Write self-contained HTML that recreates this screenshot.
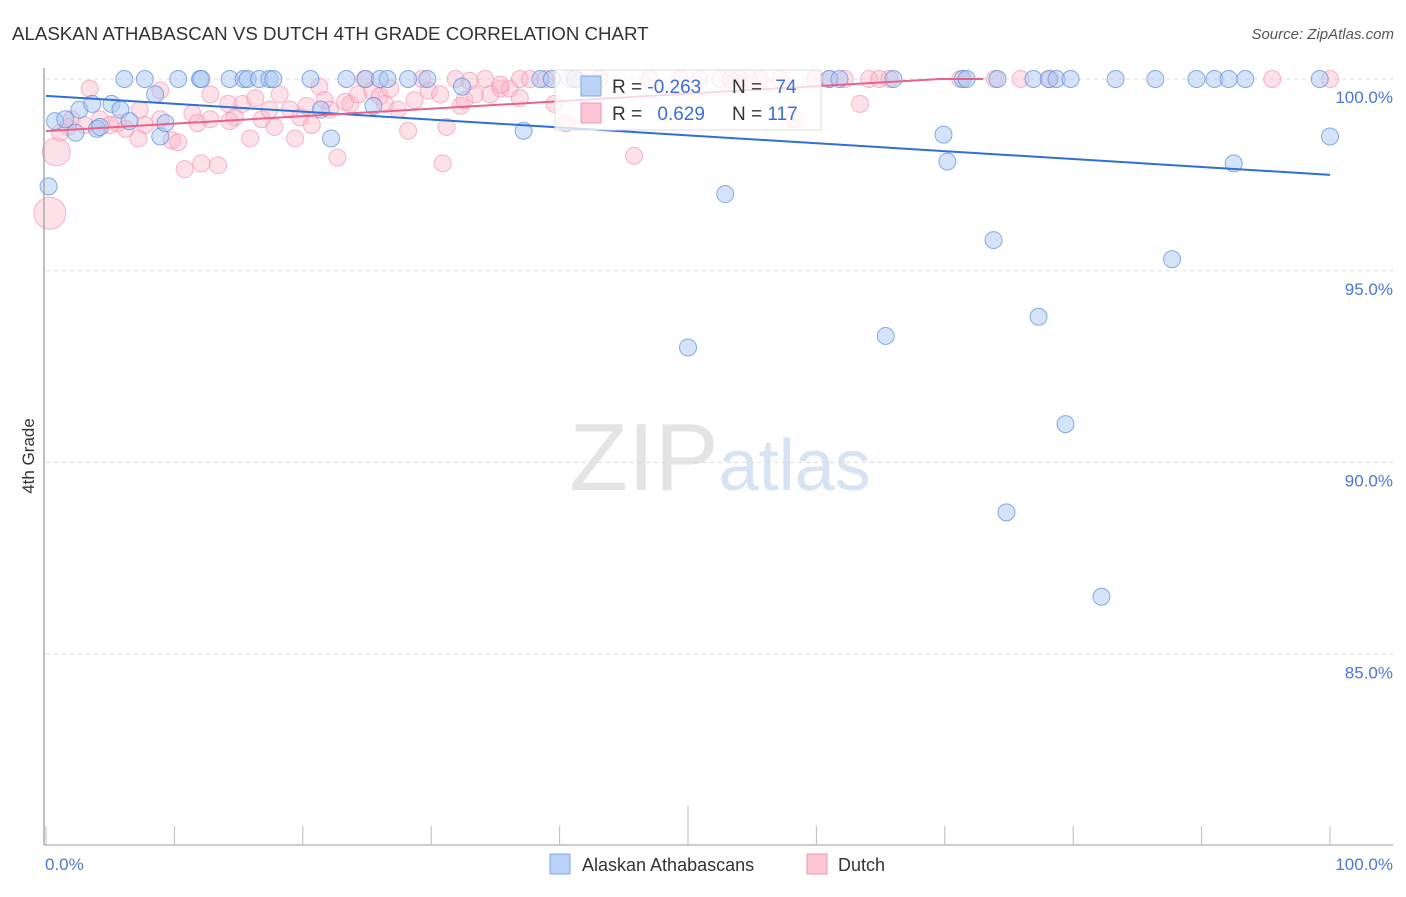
<!DOCTYPE html>
<html><head><meta charset="utf-8"><style>
body{margin:0;background:#fff;font-family:"Liberation Sans",sans-serif;}
svg text{font-family:"Liberation Sans",sans-serif;}
</style></head><body>
<svg id="chart" width="1406" height="892" xmlns="http://www.w3.org/2000/svg">
<text x="12" y="40" font-size="18.7" fill="#333">ALASKAN ATHABASCAN VS DUTCH 4TH GRADE CORRELATION CHART</text>
<text x="1394" y="39" font-size="15" fill="#555" text-anchor="end" font-style="italic">Source: ZipAtlas.com</text>
<text x="720" y="490" font-size="96" text-anchor="middle" fill="#e4e4e4" font-family="Liberation Serif">ZIP<tspan fill="#d6e3f3" font-family="Liberation Sans" font-size="72">atlas</tspan></text>
<text transform="translate(34,456) rotate(-90)" font-size="17" fill="#333" text-anchor="middle">4th Grade</text>
<g id="grid"></g><g id="pts"></g><g id="lines"></g>
<line x1="44" y1="68" x2="44" y2="845" stroke="#aaa" stroke-width="1.5"/>
<line x1="44" y1="845" x2="1393" y2="845" stroke="#bbb" stroke-width="1.5"/>
<text x="45" y="870" font-size="17" fill="#4a78d4">0.0%</text>
<text x="1393" y="870" font-size="17" fill="#4a78d4" text-anchor="end">100.0%</text>
<g>
<rect x="550" y="854" width="20" height="20" fill="#b8d3f5" stroke="#7fa6e0"/>
<text x="582" y="871" font-size="18" fill="#333">Alaskan Athabascans</text>
<rect x="807" y="854" width="20" height="20" fill="#fcc6d4" stroke="#eb9bb1"/>
<text x="838" y="871" font-size="18" fill="#333">Dutch</text>
</g>
<g>
<rect x="555" y="70" width="266" height="60" fill="#fff" fill-opacity="0.75" stroke="#ddd"/>
<rect x="581" y="76" width="20" height="20" fill="#b8d3f5" stroke="#7fa6e0"/>
<rect x="581" y="103" width="20" height="20" fill="#fcc6d4" stroke="#eb9bb1"/>
<text x="612" y="93" font-size="19" fill="#333">R = <tspan fill="#3b6fd4">-0.263</tspan></text>
<text x="732" y="93" font-size="19" fill="#333">N = <tspan fill="#3b6fd4" dx="8">74</tspan></text>
<text x="612" y="120" font-size="19" fill="#333">R = <tspan fill="#3b6fd4" dx="10">0.629</tspan></text>
<text x="732" y="120" font-size="19" fill="#333">N = <tspan fill="#3b6fd4">117</tspan></text>
</g>
</svg>
<script>
const yTicks=[100,95,90,85];
const xTicks=[0,10,20,30,40,50,60,70,80,90,100];
const blueX=[6.1,7.7,10.3,12.0,12.1,14.3,15.4,15.7,16.6,17.4,17.7,20.6,23.4,24.9,26.0,26.6,28.2,29.7,38.5,39.4,41.2,61.0,61.8,66.0,71.4,71.7,74.1,76.9,78.1,78.7,79.8,83.3,86.4,89.6,91.0,92.1,93.4,99.2,
0.2,0.7,1.5,2.3,2.6,3.6,3.97,5.1,5.8,6.5,8.5,8.9,9.3,22.2,21.4,25.5,32.4,37.2,52.9,50.0,65.4,69.9,70.2,73.8,77.3,79.4,74.8,82.2,87.7,92.5,100,4.2];
const blueY=[100,100,100,100,100,100,100,100,100,100,100,100,100,100,100,100,100,100,100,100,100,100,100,100,100,100,100,100,100,100,100,100,100,100,100,100,100,100,
97.2,98.9,98.95,98.6,99.2,99.35,98.7,99.35,99.2,98.9,99.6,98.5,98.85,98.45,99.2,99.3,99.8,98.65,97.0,93.0,93.3,98.55,97.85,95.8,93.8,91.0,88.7,86.5,95.3,97.8,98.5,98.75];
const pinkX=[0.3,0.8,1.7,2.0,3.0,4.2,5.0,5.6,6.2,7.2,7.7,8.9,9.8,10.3,10.8,11.4,11.8,12.1,12.8,13.4,14.2,14.7,15.3,15.9,16.3,16.8,17.4,17.8,18.2,19.0,19.4,19.8,20.3,20.7,21.3,21.7,22.1,22.7,23.3,23.7,24.3,24.8,25.4,26.0,26.4,26.8,27.4,28.2,28.7,29.3,29.8,30.7,31.2,30.9,31.9,32.3,32.6,33.4,34.2,34.6,35.4,36.1,36.9,37.7,38.9,39.6,40.5,40.8,41.6,43.1,45.8,47.0,49.4,50.9,52.5,53.3,54.8,55.6,57.2,58.3,59.9,61.0,62.2,63.4,64.1,64.9,65.7,71.2,73.9,75.9,78.2,95.5,100,12.8,8.9,1.1,3.4,14.3,7.3,36.9,33.0,35.4,54.0];
const pinkY=[96.5,98.1,98.75,98.95,98.8,98.95,98.8,98.85,98.7,98.45,98.8,98.95,98.4,98.35,97.65,99.1,98.85,97.8,98.95,97.75,99.35,99.0,99.35,98.45,99.5,98.95,99.2,98.75,99.6,99.2,98.45,99.0,99.3,98.8,99.8,99.45,99.2,97.95,99.4,99.35,99.6,100,99.7,99.55,99.35,99.75,99.2,98.65,99.45,100,99.7,99.6,98.75,97.8,100,99.3,99.45,99.6,100,99.6,99.75,99.75,100,100,100,99.35,98.85,100,99.95,100,98.0,100,100,100,100,100,100,100,100,98.95,100,100,100,99.35,100,100,100,100,100,100,100,100,100,99.6,99.7,98.6,99.75,98.9,99.2,99.5,99.95,99.85,100];
const blueTrend=[[0,99.56],[100,97.5]];
const pinkTrend=[[0,98.64],[69.6,100],[73.0,100]];
const X=v=>46+v*12.84, Y=v=>79+(100-v)*38.35;
const NS='http://www.w3.org/2000/svg';
function mk(tag,attrs,parent){const e=document.createElementNS(NS,tag);for(const k in attrs)e.setAttribute(k,attrs[k]);parent.appendChild(e);return e;}
const grid=document.getElementById('grid'),svg=document.getElementById('chart');
yTicks.forEach(t=>{
 const l=mk('line',{x1:46,x2:1393,y1:Y(t),y2:Y(t),stroke:'#ddd','stroke-dasharray':'4,4'},grid);
 
 
 const tx=mk('text',{x:1393,y:Y(t)+24,'font-size':17,fill:'#4a78d4','text-anchor':'end'},svg);
 tx.textContent=t.toFixed(1)+'%';
 
 
});
xTicks.forEach(t=>{
 const l=mk('line',{x1:X(t),x2:X(t),y1:t==50?806:826,y2:845,stroke:'#bbb'},grid);
 
 
});
const pts=document.getElementById('pts');
pinkX.forEach((v,i)=>{
 const r=i==0?16:(i==1?14:8.5);
 const c=mk('circle',{cx:X(v),cy:Y(pinkY[i]),r:r,fill:'#f9b3c6','fill-opacity':0.4,stroke:'#ee8aa8','stroke-opacity':0.6,'stroke-width':1},pts);
 
 
});
blueX.forEach((v,i)=>{
 const c=mk('circle',{cx:X(v),cy:Y(blueY[i]),r:8.5,fill:'#a9c8f2','fill-opacity':0.5,stroke:'#5a8ad8','stroke-opacity':0.7,'stroke-width':1},pts);
 
 
});
const lines=document.getElementById('lines');
const bl=mk('polyline',{points:blueTrend.map(p=>X(p[0])+','+Y(p[1])).join(' '),fill:'none',stroke:'#2f6fd6','stroke-width':2},lines);


const pl=mk('polyline',{points:pinkTrend.map(p=>X(p[0])+','+Y(p[1])).join(' '),fill:'none',stroke:'#e8628c','stroke-width':2},lines);


</script>
</body></html>
